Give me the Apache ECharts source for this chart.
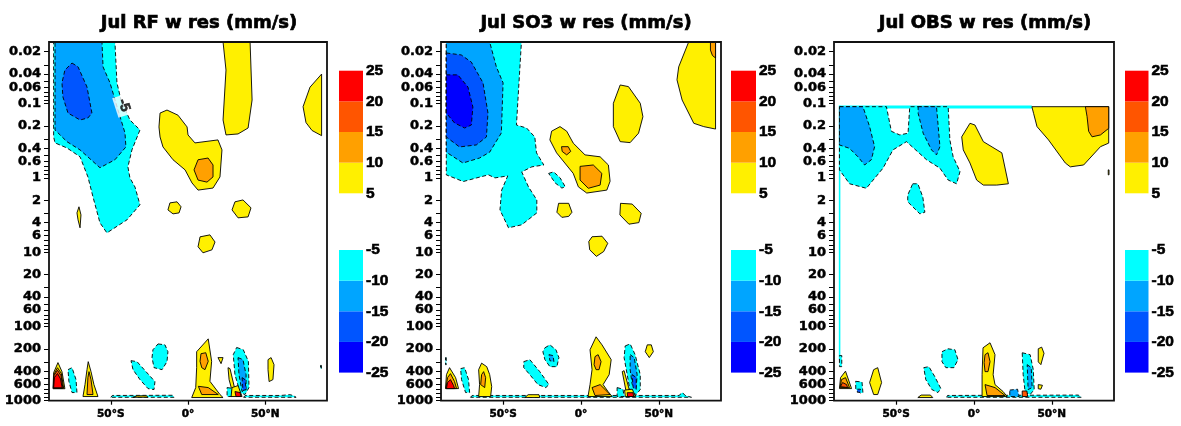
<!DOCTYPE html>
<html>
<head>
<meta charset="utf-8">
<title>Jul w res</title>
<script src="https://cdn.jsdelivr.net/npm/echarts@6/dist/echarts.min.js"></script>
<style>
  html, body { margin: 0; padding: 0; background: #fff; }
  #chart { width: 1181px; height: 426px; }
</style>
</head>
<body>
<div id="chart"></div>
<script>
const titles = ['Jul RF w res (mm/s)', 'Jul SO3 w res (mm/s)', 'Jul OBS w res (mm/s)'];
const latLabels = [-50, 0, 50];
const pLabels = [0.02, 0.04, 0.06, 0.1, 0.2, 0.4, 0.6, 1, 2, 4, 6, 10, 20, 40, 60, 100, 200, 400, 600, 1000];
const posLevels = [5, 10, 15, 20, 25];
const negLevels = [-25, -20, -15, -10, -5];
const pTop = 0.0148, pBottom = 1000;

// contour regions: [level, [[lat, hPa], ...]]  (level = lower edge of the band)
const rfShapes = [
  [-5, [[-87,0.0148],[-47.3,0.0148],[-46,0.0525],[-43.4,0.089],[-37.6,0.166],[-31.1,0.226],[-36.3,0.42],[-38.9,0.71],[-37.6,1.0],[-34.3,1.33],[-31.1,2.3],[-39.5,3.67],[-52.5,5.5],[-57,4.03],[-61.5,1.81],[-64.8,0.97],[-69.9,0.52],[-78.4,0.395],[-86.1,0.338],[-87,0.281]]],
  [-10, [[-86.1,0.0148],[-55.7,0.0148],[-55,0.032],[-50.5,0.0525],[-45.3,0.122],[-40.8,0.248],[-40.2,0.383],[-47.3,0.57],[-57,0.73],[-69.9,0.42],[-78.4,0.325],[-86.1,0.226]]],
  [-15, [[-75.1,0.0284],[-71.2,0.032],[-65.4,0.0597],[-62.2,0.134],[-64.8,0.156],[-69.9,0.166],[-77.7,0.134],[-81,0.0812],[-81.6,0.0525],[-79.7,0.0353]]],
  [5, [[22.7,0.0148],[40.2,0.0148],[41.5,0.0894],[38.9,0.213],[32.4,0.256],[24.6,0.264],[22.7,0.166],[24.6,0.0353]]],
  [5, [[86.5,0.04],[79,0.06],[74.5,0.11],[76.4,0.18],[80.3,0.23],[86.5,0.27]]],
  [5, [[-18.1,0.134],[-13.6,0.122],[-6.5,0.143],[-0.6,0.206],[0,0.264],[4.5,0.338],[19.4,0.308],[22,0.42],[20.7,0.97],[16.2,1.37],[6.5,1.46],[2.6,1.17],[-1.9,0.78],[-9.7,0.57],[-16.2,0.383],[-18.1,0.281],[-18.8,0.206]]],
  [10, [[6.5,0.57],[13,0.54],[16.2,0.67],[16.2,0.97],[12.3,1.14],[6.5,1.07],[3.9,0.78]]],
  [5, [[-11.7,2.17],[-7.1,2.1],[-4.5,2.45],[-5.8,2.96],[-9.7,3.05],[-13,2.7]]],
  [5, [[30.4,2.1],[35.6,1.98],[40.8,2.53],[38.9,3.35],[32.4,3.45],[28.5,2.7]]],
  [5, [[7.8,6.22],[14.2,5.85],[17.5,7.3],[15.5,9.3],[9.7,10.2],[6.5,8.46]]],
  [5, [[-70.6,2.45],[-69.3,3.15],[-69.9,4.7],[-71.2,3.67],[-71.9,2.96]]],
  [-5, [[-50,900],[-49,850],[-10,845],[-9,900]]],
  [-5, [[36,900],[37,850],[60,850],[66,830],[68,850],[70,900]]],
  [5, [[-35.6,900],[-33,860],[-27,860],[-25.9,900]]],
  [5, [[-87.4,690],[-87,420],[-84.2,307],[-81.6,406],[-79.7,690]]],
  [10, [[-87.2,680],[-86.8,440],[-84.5,360],[-82,430],[-80.5,680]]],
  [15, [[-87.1,675],[-86.7,455],[-84.5,390],[-82.2,460],[-81,675]]],
  [20, [[-87,670],[-86.5,490],[-84.5,430],[-82.5,510],[-81.5,670]]],
  [-5, [[-77.7,382],[-75.1,359],[-72.5,520],[-71.9,777],[-75.1,777],[-77.1,553]]],
  [5, [[-68,879],[-66.7,607],[-65.4,382],[-64.6,298],[-62.8,406],[-60.9,607],[-58.3,879]]],
  [10, [[-65.4,826],[-64.8,489],[-64.1,406],[-62.8,520],[-61.5,826]]],
  [-5, [[-19.4,172],[-14.9,177],[-13,219],[-13.6,298],[-16.8,382],[-22,359],[-23.3,263],[-22.7,206]]],
  [-5, [[-36.9,289],[-33,298],[-27.2,406],[-21.4,553],[-22,708],[-25.9,687],[-31.1,520],[-35.6,382]]],
  [5, [[5.6,219],[13.1,147],[15.3,295],[14.2,548],[20.7,826],[22.7,907],[2.4,907],[5,666],[5.6,359]]],
  [10, [[8.4,233],[11.5,226],[13.1,295],[11,382],[8.9,359],[7.8,295]]],
  [10, [[6.7,640],[13.1,666],[19.6,826],[8.9,826]]],
  [5, [[19.4,263],[22.7,263],[21.4,317]]],
  [5, [[25.9,359],[27.2,370],[30.4,708],[28.5,730],[26.6,520]]],
  [-5, [[25.3,666],[28.5,680],[28.5,879],[25.3,879]]],
  [-5, [[31.5,192],[35.8,206],[39.1,295],[39.5,666],[36.9,826],[33.7,777],[30.4,446],[29.3,240]]],
  [-10, [[32.4,263],[35.6,280],[37.6,446],[37.6,708],[35,753],[33,446]]],
  [-15, [[35,489],[36.9,520],[37.6,708],[35.6,730]]],
  [5, [[28.5,666],[32.4,626],[35,879],[27.9,879]]],
  [20, [[30.4,753],[33.7,777],[34.3,879],[31.1,879]]],
  [5, [[51.8,280],[53.8,263],[55.7,327],[55,520],[52.5,553],[51.8,382]]],
  [-5, [[85.8,335],[86.4,335],[86.4,372],[85.8,372]]]
];

const so3Shapes = [
  [-5, [[-86.6,0.0148],[-38.3,0.0148],[-41.5,0.194],[-35,0.213],[-29.7,0.281],[-28.6,0.46],[-23.9,0.67],[-31.6,0.71],[-38.1,0.83],[-33.7,1.33],[-28.4,1.98],[-28.4,2.96],[-38.1,4.28],[-46.6,4.7],[-52.1,2.7],[-51,1.46],[-47.1,0.94],[-55.3,1.0],[-59.5,0.91],[-67.1,1.0],[-75.7,1.12],[-86.6,0.91]]],
  [-10, [[-86.6,0.0148],[-58.7,0.0148],[-54.4,0.032],[-50.1,0.0525],[-51.2,0.248],[-58.7,0.45],[-65.2,0.54],[-75.9,0.63],[-86.6,0.45]]],
  [-15, [[-86.6,0.0208],[-77,0.0221],[-70.5,0.0276],[-63,0.0525],[-59.8,0.134],[-60.8,0.281],[-67.3,0.36],[-78.1,0.383],[-86.6,0.281]]],
  [-20, [[-86.6,0.041],[-79.2,0.041],[-72.7,0.0597],[-69.5,0.111],[-70.5,0.194],[-74.8,0.213],[-81.3,0.182],[-86.6,0.134]]],
  [-5, [[-20.8,0.87],[-17.6,0.83],[-13.4,1.0],[-10.1,1.32],[-12.3,1.37],[-16.6,1.17]]],
  [5, [[-18.9,0.235],[-13.5,0.204],[-9.2,0.235],[-5,0.34],[2.6,0.49],[12.3,0.52],[17.6,0.67],[18.7,1.11],[16.6,1.46],[3.7,1.6],[-1.7,1.32],[-5,0.87],[-15.7,0.46],[-20,0.308]]],
  [10, [[-0.6,0.7],[7.9,0.67],[13.4,0.87],[12.3,1.25],[4.7,1.38],[-0.6,1.07]]],
  [10, [[-12.5,0.38],[-8.2,0.38],[-6.6,0.44],[-9.2,0.49],[-12.1,0.44]]],
  [5, [[25.2,0.0561],[30.5,0.059],[38.1,0.099],[39.8,0.15],[37,0.25],[31.6,0.335],[25.2,0.325],[20.8,0.204],[20.8,0.099]]],
  [5, [[69.2,0.0148],[86.5,0.0148],[86.5,0.22],[78.9,0.204],[72.5,0.184],[65,0.0894],[61.7,0.0478],[62.8,0.032]]],
  [10, [[83.2,0.0148],[86.5,0.0148],[86.5,0.0243],[84.5,0.0225],[83.2,0.019]]],
  [5, [[-14.4,2.2],[-7.9,2.2],[-5.8,2.9],[-7.9,3.3],[-12.3,3.4],[-15.5,2.9]]],
  [5, [[25.4,2.2],[32.9,2.25],[38.7,3.0],[37.2,4.0],[30.8,4.2],[25,3.15]]],
  [5, [[7.1,6.2],[13.5,6.1],[17.2,7.6],[14.6,9.8],[9.9,11.4],[5.6,9.3],[5,7.2]]],
  [-5, [[-71,900],[-70,850],[63,850],[65.2,777],[67,850],[71,900]]],
  [5, [[-36.1,907],[-34,830],[-27,830],[-26.5,907]]],
  [5, [[-87.1,687],[-86.5,446],[-84.5,359],[-80.6,489],[-78.7,687]]],
  [10, [[-86.8,687],[-85.8,489],[-83.9,432],[-81.3,553],[-80,687]]],
  [20, [[-86.5,687],[-85.8,570],[-83.9,520],[-81.9,626],[-81.3,687]]],
  [-5, [[-87.1,263],[-86.6,263],[-86.6,327],[-87.1,327]]],
  [-5, [[-77.4,370],[-74.8,359],[-72.3,520],[-71.6,777],[-74.2,777],[-76.8,520]]],
  [5, [[-65.8,879],[-65.2,607],[-65.8,382],[-63.9,312],[-60.6,348],[-58.7,446],[-57.4,646],[-58.1,879]]],
  [10, [[-64.5,607],[-63.9,446],[-62.6,406],[-61.3,489],[-61.9,666]]],
  [-5, [[-36.8,298],[-32.9,280],[-26.5,406],[-20.6,607],[-22.6,666],[-27.7,607],[-32.9,446],[-36.8,359]]],
  [-5, [[-23.2,194],[-20,177],[-16.1,206],[-14.2,263],[-15.5,348],[-20,348],[-23.2,280],[-24.5,219]]],
  [-10, [[-20.6,240],[-18,247],[-17.4,298],[-20,289]]],
  [5, [[5.8,206],[9.7,138],[13.5,177],[19.4,280],[18.1,446],[14.2,607],[17.4,753],[20,879],[4.5,879],[5.8,607],[7.1,382]]],
  [10, [[9,255],[11,240],[12.9,298],[11.6,382],[9.7,382],[8.4,327]]],
  [10, [[7.1,666],[12.3,607],[18.7,826],[9,852]]],
  [-5, [[23.2,666],[27,700],[27.7,879],[23.2,879]]],
  [-5, [[28.4,183],[31.6,172],[34.8,240],[38.1,446],[38.1,708],[35.5,826],[31.6,753],[29.7,446],[27.7,263]]],
  [-10, [[31.6,240],[34.2,263],[36.1,446],[35.5,666],[32.9,607],[31.6,382]]],
  [-15, [[32.9,446],[35.5,489],[35.5,708],[33.5,666]]],
  [5, [[26.5,406],[27.7,394],[31,708],[29,753]]],
  [5, [[28,720],[33,700],[35,879],[28.5,879]]],
  [20, [[29.7,780],[33.5,780],[33.8,879],[30,879]]],
  [5, [[42.6,177],[45.2,177],[46.5,219],[43.9,263],[41.3,219]]]
];

const obsShapes = [
  [-5, [[-86.5,0.11],[-56.3,0.11],[-53.1,0.236],[-47.7,0.264],[-42.4,0.25],[-41.3,0.11],[-16.6,0.11],[-15.5,0.308],[-13.4,0.52],[-9,0.82],[-11.2,1.2],[-16.6,1.07],[-21.9,0.74],[-30.5,0.57],[-43.4,0.325],[-52.1,0.42],[-58.5,0.74],[-69.2,1.38],[-80,1.2],[-86.5,0.78]]],
  [-10, [[-86.5,0.11],[-71.4,0.11],[-67.1,0.204],[-63.9,0.38],[-66,0.57],[-70.3,0.67],[-74.6,0.52],[-80,0.4],[-86.5,0.36]]],
  [-10, [[-35.9,0.11],[-24.1,0.11],[-23,0.204],[-21.9,0.38],[-24.1,0.49],[-27.3,0.42],[-32.7,0.25],[-35.9,0.135]]],
  [-5, [[-39.4,1.2],[-36.1,1.2],[-32.9,1.81],[-31.6,2.9],[-34.8,3.05],[-42.6,2.1],[-42.6,1.7]]],
  [5, [[-7.9,0.28],[-2.6,0.184],[0.6,0.194],[6,0.325],[17.9,0.46],[22.1,1.2],[14.6,1.25],[6,1.25],[1.7,1.07],[-2.6,0.63],[-6.9,0.42]]],
  [5, [[37.2,0.11],[86.6,0.11],[86.6,0.34],[81.3,0.38],[70.5,0.67],[61.9,0.71],[58.7,0.63],[47.9,0.308],[40.5,0.204],[38.3,0.135]]],
  [10, [[71.6,0.11],[86.6,0.11],[86.6,0.215],[81.3,0.264],[75.9,0.28],[73.7,0.236],[72.7,0.15]]],
  [5, [[86.3,0.78],[86.8,0.78],[86.8,0.91],[86.3,0.91]]],
  [-5, [[-17.6,900],[-17,850],[67,840],[69,900]]],
  [5, [[-36.1,907],[-34,840],[-28,840],[-26.5,907]]],
  [5, [[-86.5,687],[-85.8,489],[-82.6,400],[-78.7,687]]],
  [10, [[-86.1,666],[-85.2,520],[-82.6,489],[-80,666]]],
  [15, [[-85.8,646],[-84.5,570],[-81.9,607],[-81.3,666]]],
  [-5, [[-86.5,247],[-85,247],[-85,348],[-86.5,348]]],
  [-5, [[-76.1,548],[-72,560],[-71.4,780],[-73,790],[-76,700]]],
  [-15, [[-75,700],[-73,700],[-73,770],[-75,770]]],
  [5, [[-67.1,570],[-64.5,382],[-61.9,359],[-59.4,570],[-61.9,826],[-64.5,826]]],
  [-5, [[-32.3,359],[-29,348],[-25.2,474],[-21.3,687],[-23.2,777],[-27.1,708],[-31,520]]],
  [-5, [[-20.6,219],[-16.8,200],[-12.3,206],[-10.3,280],[-12.9,359],[-18.1,359],[-20.6,298]]],
  [5, [[5.8,194],[10.3,166],[13.5,240],[12.3,446],[13.5,607],[18.7,753],[21.3,879],[5.2,879],[5.2,446]]],
  [10, [[7.1,240],[9,226],[10.3,298],[9,406],[7.1,406],[6.5,307]]],
  [10, [[7.1,607],[13.5,666],[20,852],[8.4,852]]],
  [-10, [[23,720],[28,700],[29,879],[23,879]]],
  [-5, [[31,226],[36.1,240],[38.1,382],[38.7,708],[36.1,826],[32.9,777],[31.6,446]]],
  [-10, [[34.2,327],[36.8,359],[37.4,666],[34.8,708]]],
  [15, [[31,740],[34,740],[34.5,879],[31,879]]],
  [5, [[41.3,200],[43.5,190],[45,230],[43,327],[41.3,300]]],
  [5, [[41.3,607],[44,620],[43,700],[41.3,690]]]
];

// OBS data edge (top of the observed region and its left column)
const obsEdges = [
  [[-86.5,0.106],[37.2,0.106],[37.2,0.116],[-86.5,0.116]],
  [[-86.9,0.106],[-85.9,0.106],[-85.9,280],[-86.9,280]]
];

// contour label on the RF panel
const rfLabelAt = [-41.5, 0.105];

const levelColors = {
  '5': '#fff000', '10': '#ffa000', '15': '#ff5500', '20': '#ff0000',
  '-5': '#00ffff', '-10': '#00a5ff', '-15': '#0055ff', '-20': '#0000ff'
};

const pTicks = [];
[0.01, 0.1, 1, 10, 100].forEach(d => {
  for (let m = 1; m <= 9; m++) pTicks.push(+(d * m).toPrecision(2));
});
pTicks.push(1000);

const lg = v => Math.log10(v);
const boldFont = {
  fontFamily: 'DejaVu Sans', fontWeight: 'bold', color: '#000',
  textBorderColor: '#000', textBorderWidth: 0.5
};
const cbFont = {
  fontFamily: 'Liberation Sans', fontWeight: 'bold', color: '#000',
  textBorderColor: '#000', textBorderWidth: 0.6
};

function latText(v) {
  if (v === 0) return '0°';
  return v < 0 ? (-v) + '°S' : v + '°N';
}

function contourItem(shapes, outline) {
  return function (params, api) {
    const s = outline ? shapes[params.dataIndex] : [-5, shapes[params.dataIndex]];
    const lvl = s[0];
    const pts = s[1].map(d => api.coord([d[0], lg(d[1])]));
    return {
      type: 'polygon',
      shape: { points: pts },
      style: outline ? {
        fill: levelColors[lvl], stroke: '#000', lineWidth: 0.9,
        lineDash: lvl < 0 ? [4, 2.5] : null
      } : { fill: levelColors[lvl] }
    };
  };
}

function bandItem(bands) {
  return function (params, api) {
    const b = bands[params.dataIndex];
    const a = api.coord([0, b[0]]);
    const c = api.coord([1, b[1]]);
    return {
      type: 'rect',
      shape: { x: a[0], y: c[1], width: c[0] - a[0], height: a[1] - c[1] },
      style: { fill: levelColors[b[2]] }
    };
  };
}

const posBands = posLevels.slice(0, -1).map((v, i) => [v, posLevels[i + 1], v]);
const negBands = negLevels.slice(0, -1).map((v, i) => [v, negLevels[i + 1], negLevels[i + 1]]);

const panels = [
  { shapes: rfShapes, left: 49, width: 278, cbLeft: 339, cbWidth: 24, titleX: 194 },
  { shapes: so3Shapes, left: 441, width: 280, cbLeft: 731, cbWidth: 25, titleX: 581 },
  { shapes: obsShapes, left: 834, width: 280, cbLeft: 1125, cbWidth: 23.5, titleX: 980 }
];

const grid = [], xAxis = [], yAxis = [], series = [], title = [];

panels.forEach((p, i) => {
  const g = grid.length;
  grid.push({ left: p.left, top: 42, width: p.width, height: 358.7, show: true, z: 10,
    borderColor: '#111', borderWidth: 1.8, backgroundColor: 'transparent' });
  xAxis.push({
    gridIndex: g, type: 'value', min: -90, max: 90, position: 'bottom',
    axisLine: { show: false, onZero: false }, splitLine: { show: false },
    axisTick: { customValues: latLabels, length: 4, lineStyle: { color: '#000', width: 1.2 } },
    axisLabel: Object.assign({ customValues: latLabels, formatter: latText, fontSize: 10.5, margin: 8 }, boldFont)
  });
  yAxis.push({
    gridIndex: g, type: 'value', inverse: true, min: lg(pTop), max: lg(pBottom), position: 'left',
    axisLine: { show: false, onZero: false }, splitLine: { show: false },
    axisTick: { customValues: pTicks.map(lg), length: 5, lineStyle: { color: '#000', width: 1 } },
    axisLabel: Object.assign({
      customValues: pLabels.map(lg),
      formatter: v => String(+Math.pow(10, v).toPrecision(3)),
      fontSize: 13, margin: 8
    }, boldFont)
  });
  if (i === 2) {
    series.push({
      type: 'custom', xAxisIndex: g, yAxisIndex: g, clip: true, silent: true,
      renderItem: contourItem(obsEdges, false),
      data: obsEdges.map(e => [e[0][0], lg(e[0][1])])
    });
  }
  series.push({
    type: 'custom', xAxisIndex: g, yAxisIndex: g, clip: true, silent: true,
    renderItem: contourItem(p.shapes, true),
    data: p.shapes.map(s => [s[1][0][0], lg(s[1][0][1])])
  });
  if (i === 0) {
    series.push({
      type: 'scatter', xAxisIndex: g, yAxisIndex: g, symbolSize: 0, silent: true, z: 5,
      data: [[rfLabelAt[0], lg(rfLabelAt[1])]],
      label: Object.assign({
        show: true, position: 'inside', formatter: '-5', rotate: -72,
        backgroundColor: '#fff', padding: [2, 4], fontSize: 14
      }, cbFont)
    });
  }

  title.push({
    text: titles[i], left: p.titleX, top: 9, textAlign: 'center',
    textStyle: Object.assign({ fontSize: 18 }, boldFont, { textBorderWidth: 0.7 })
  });

  // colour bars
  [[posBands, 5, 25, 70.7], [negBands, -25, -5, 250]].forEach(cb => {
    const gi = grid.length;
    grid.push({ left: p.cbLeft, top: cb[3], width: p.cbWidth, height: 122.6 });
    xAxis.push({ gridIndex: gi, type: 'value', min: 0, max: 1, show: false });
    yAxis.push({
      gridIndex: gi, type: 'value', min: cb[1], max: cb[2], interval: 5, position: 'right',
      axisLine: { show: false, onZero: false }, axisTick: { show: false }, splitLine: { show: false },
      axisLabel: Object.assign({ fontSize: 15.5, margin: 3 }, cbFont)
    });
    series.push({
      type: 'custom', xAxisIndex: gi, yAxisIndex: gi, silent: true,
      renderItem: bandItem(cb[0]),
      data: cb[0].map(b => [0, b[0]])
    });
  });
});

const chart = echarts.init(document.getElementById('chart'), null, { renderer: 'canvas' });
chart.setOption({
  animation: false,
  backgroundColor: '#fff',
  title: title,
  grid: grid,
  xAxis: xAxis,
  yAxis: yAxis,
  series: series
});
</script>
</body>
</html>
